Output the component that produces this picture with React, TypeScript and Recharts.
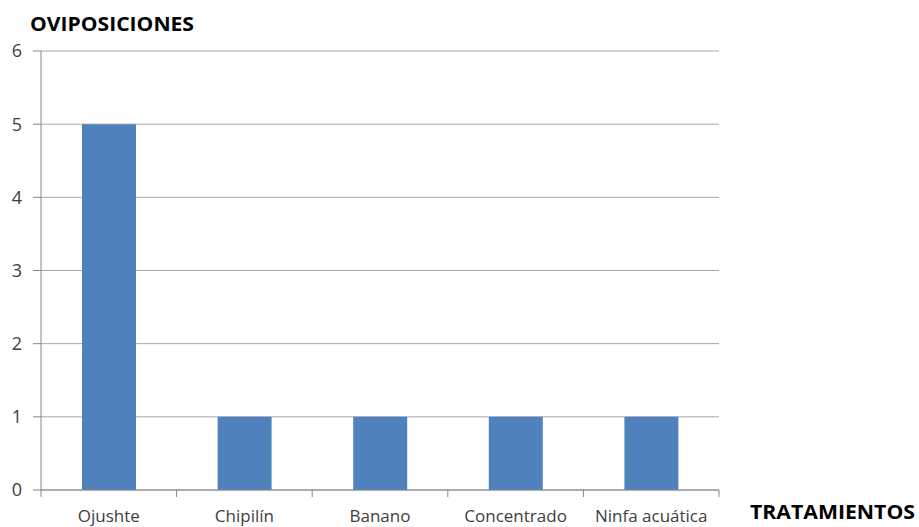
import React from "react";
import { BarChart, Bar, XAxis, YAxis, CartesianGrid } from "recharts";

const categories = ["Ojushte", "Chipilín", "Banano", "Concentrado", "Ninfa acuática"];
const oviposiciones = [5, 1, 1, 1, 1];
const yTicks = [0, 1, 2, 3, 4, 5, 6];

const data = categories.map((name, i) => ({ name, value: oviposiciones[i] }));

const FONT = "'Open Sans', 'Liberation Sans', sans-serif";

const CatTick = (props: any) => {
  const { x, y, payload, index } = props;
  const half = payload && payload.offset ? payload.offset : 67.8;
  const last = index === categories.length - 1;
  return (
    <g>
      <line x1={x - half} y1={y - 8} x2={x - half} y2={y - 1} stroke="#868686" strokeWidth={1} />
      {last && (
        <line x1={x + half} y1={y - 8} x2={x + half} y2={y - 1} stroke="#868686" strokeWidth={1} />
      )}
      <text x={x} y={y + 24} textAnchor="middle" fill="#404040" fontSize={17} fontFamily={FONT}>
        {payload.value}
      </text>
    </g>
  );
};

export default function App() {
  return (
    <div style={{ position: "absolute", left: 0, top: 0, width: 919, height: 527, background: "#fff", overflow: "hidden" }}>
      <BarChart
        width={919}
        height={527}
        data={data}
        margin={{ top: 51, right: 200, bottom: 0, left: 0 }}
        barSize={54}
      >
        <CartesianGrid vertical={false} stroke="#a6a6a6" strokeWidth={1} />
        <XAxis
          dataKey="name"
          height={37}
          axisLine={{ stroke: "#868686" }}
          tickLine={false}
          tick={<CatTick />}
          interval={0}
        />
        <YAxis
          width={41}
          domain={[0, 6]}
          ticks={yTicks}
          interval={0}
          axisLine={{ stroke: "#868686" }}
          tickLine={{ stroke: "#868686" }}
          tickSize={8}
          tickMargin={11}
          tick={{ fill: "#404040", fontSize: 18, fontFamily: FONT }}
        />
        <Bar dataKey="value" fill="#4f81bd" isAnimationActive={false} />
      </BarChart>
      <svg
        width={919}
        height={527}
        style={{ position: "absolute", left: 0, top: 0, pointerEvents: "none" }}
      >
        <text
          x={30}
          y={31}
          fontFamily={FONT}
          fontWeight={700}
          fontSize={20}
          fill="#000"
          textLength={164}
          lengthAdjust="spacingAndGlyphs"
        >
          OVIPOSICIONES
        </text>
        <text
          x={750}
          y={519}
          fontFamily={FONT}
          fontWeight={700}
          fontSize={20}
          fill="#000"
          textLength={165}
          lengthAdjust="spacingAndGlyphs"
        >
          TRATAMIENTOS
        </text>
      </svg>
    </div>
  );
}
